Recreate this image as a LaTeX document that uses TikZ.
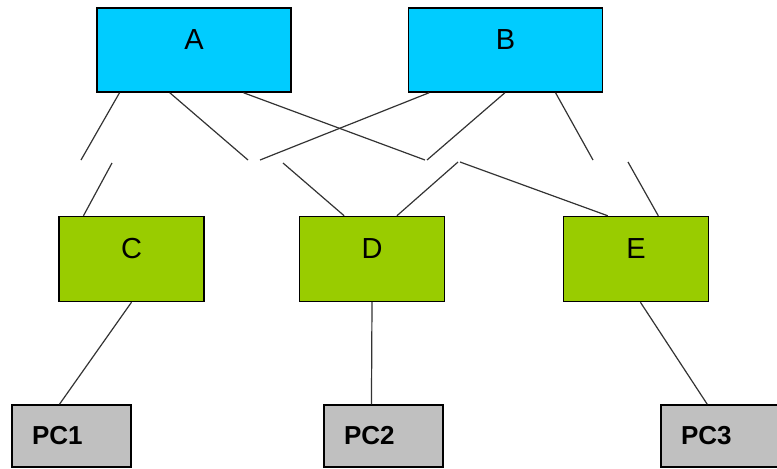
\documentclass[tikz,border=0pt]{standalone}
\usepackage{fontspec}
\setmainfont{Liberation Sans}
\usetikzlibrary{calc}
\definecolor{CoreBlue}{HTML}{00CCFF}
\definecolor{DistGreen}{HTML}{99CC00}
\definecolor{HostGray}{HTML}{C0C0C0}
\begin{document}
\begin{tikzpicture}[
    x=0.75pt, y=-0.75pt,
    switchbox/.style={
      draw=black,
      line width=1.1pt,
      fill=#1,
      inner sep=0pt
    },
    corebox/.style={
      switchbox=CoreBlue,
      minimum width=145.5pt,
      minimum height=63pt
    },
    distbox/.style={
      switchbox=DistGreen,
      minimum width=108.75pt,
      minimum height=63.75pt
    },
    boxname/.style={
      font=\fontsize{21.75}{22}\selectfont,
      yshift=7.5pt
    },
    hostbox/.style={
      switchbox=HostGray,
      minimum width=89.25pt,
      minimum height=46.5pt,
      inner xsep=15pt,
      text width=59.25pt,
      align=left,
      font=\bfseries\fontsize{19.5}{20}\selectfont
    },
    link/.style={
      line width=0.9pt,
      color=black!80
    }
  ]
  \useasboundingbox (0,0) rectangle (777,468);

  % core switches
  \node[corebox, label={[boxname]center:A}] (A) at (194,50) {};
  \node[corebox, label={[boxname]center:B}] (B) at (505.5,50) {};

  % distribution switches
  \node[distbox, label={[boxname]center:C}] (C) at (131.5,259) {};
  \node[distbox, label={[boxname]center:D}] (D) at (372,259) {};
  \node[distbox, label={[boxname]center:E}] (E) at (636,259) {};

  % hosts
  \node[hostbox] (pc1) at (71.5,436) {PC1};
  \node[hostbox] (pc2) at (383.5,436) {PC2};
  \node[hostbox] (pc3) at (720.5,436) {PC3};

  % broken ends of the uplinks
  \coordinate (a1) at (81,160);
  \coordinate (a2) at (248,160);
  \coordinate (a3) at (425,160);
  \coordinate (b1) at (260,160);
  \coordinate (b2) at (427,160);
  \coordinate (b3) at (593,160);
  \coordinate (c1) at (112,163);
  \coordinate (d1) at (283,163);
  \coordinate (d2) at (458,162);
  \coordinate (e1) at (460,162);
  \coordinate (e2) at (628,162);

  % uplinks, upper half
  \draw[link] ($(A.south west)!0.119!(A.south east)$) -- (a1);
  \draw[link] ($(A.south west)!0.376!(A.south east)$) -- (a2);
  \draw[link] ($(A.south west)!0.753!(A.south east)$) -- (a3);
  \draw[link] ($(B.south west)!0.109!(B.south east)$) -- (b1);
  \draw[link] ($(B.south west)!0.497!(B.south east)$) -- (b2);
  \draw[link] ($(B.south west)!0.756!(B.south east)$) -- (b3);

  % uplinks, lower half
  \draw[link] (c1) -- ($(C.north west)!0.172!(C.north east)$);
  \draw[link] (d1) -- ($(D.north west)!0.31!(D.north east)$);
  \draw[link] (d2) -- ($(D.north west)!0.67!(D.north east)$);
  \draw[link] (e1) -- ($(E.north west)!0.307!(E.north east)$);
  \draw[link] (e2) -- ($(E.north west)!0.652!(E.north east)$);

  % host links
  \draw[link] (C.south) -- ($(pc1.north west)!0.40!(pc1.north east)$);
  \draw[link] (D.south) -- ($(pc2.north west)!0.40!(pc2.north east)$);
  \draw[link] ($(E.south west)!0.53!(E.south east)$) -- ($(pc3.north west)!0.39!(pc3.north east)$);

\end{tikzpicture}
\end{document}
